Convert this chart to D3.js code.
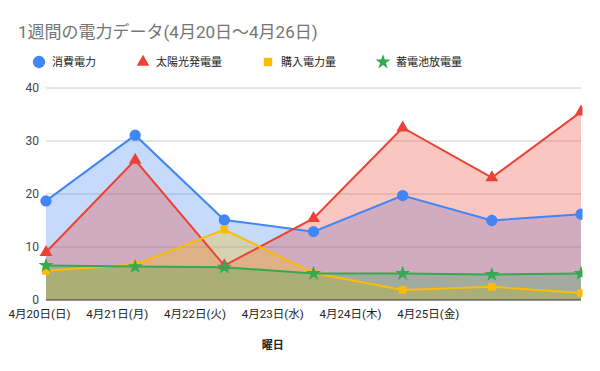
<!DOCTYPE html>
<html>
<head>
<meta charset="utf-8">
<script src="https://cdnjs.cloudflare.com/ajax/libs/d3/7.8.5/d3.min.js"></script>
<style>
    body { margin: 0; background: #fff; }
    svg { display: block; font-family: Roboto, "Noto Sans CJK JP", Arial, sans-serif; }
</style>
</head>
<body>
<svg id="chart" width="600" height="371"></svg>
<script>
    // Data
    const categories = ['4月20日(日)', '4月21日(月)', '4月22日(火)', '4月23日(水)', '4月24日(木)', '4月25日(金)', '4月26日(土)'];
    const seriesNames = ['消費電力', '太陽光発電量', '購入電力量', '蓄電池放電量'];
    const consumption = [18.7, 31.1, 15.1, 12.9, 19.7, 15.0, 16.2];
    const solar = [9.0, 26.4, 6.5, 15.4, 32.5, 23.1, 35.5];
    const purchased = [5.5, 6.7, 13.3, 5.1, 1.9, 2.5, 1.3];
    const battery = [6.5, 6.3, 6.2, 5.0, 5.0, 4.8, 5.0];
    const yTicks = [0, 10, 20, 30, 40];

    const colors = ['#4285f4', '#ea4335', '#fbbc04', '#34a853'];
    const symbols = [d3.symbolCircle, d3.symbolTriangle, d3.symbolSquare, d3.symbolStar];
    const symbolSizes = [100, 70, 60, 70];
    const allSeries = [consumption, solar, purchased, battery];

    const svg = d3.select('#chart');
    const margin = {left: 46, right: 19, top: 88, bottom: 71};
    const width = 600 - margin.left - margin.right;
    const height = 371 - margin.top - margin.bottom;

    const x = d3.scalePoint().domain(categories).range([margin.left, margin.left + width]);
    const y = d3.scaleLinear().domain([0, 40]).range([margin.top + height, margin.top]);
    // tick labels are laid out on their own spacing (as in the original)
    const xLabel = d3.scalePoint().domain(categories).range([39.5, 506]);

    // Title
    svg.append('text')
        .attr('x', 18).attr('y', 38)
        .attr('font-size', 17)
        .attr('fill', '#757575')
        .text('1週間の電力データ(4月20日～4月26日)');

    // Legend
    const legendX = [39, 143, 268, 383];
    seriesNames.forEach((name, i) => {
        svg.append('path')
            .attr('d', d3.symbol(symbols[i], i === 0 ? 120 : 70)())
            .attr('transform', `translate(${legendX[i]},62)`)
            .attr('fill', colors[i]);
        svg.append('text')
            .attr('x', legendX[i] + 13).attr('y', 66)
            .attr('font-size', 11)
            .attr('fill', '#222')
            .text(name);
    });

    // Gridlines + y labels
    svg.append('g').selectAll('line')
        .data(yTicks.filter(d => d > 0))
        .join('line')
        .attr('x1', margin.left).attr('x2', margin.left + width)
        .attr('y1', d => y(d)).attr('y2', d => y(d))
        .attr('stroke', '#cccccc').attr('stroke-width', 1);

    svg.append('g').selectAll('text')
        .data(yTicks)
        .join('text')
        .attr('x', 39).attr('y', d => y(d) + 4)
        .attr('text-anchor', 'end')
        .attr('font-size', 12)
        .attr('fill', '#444')
        .text(d => d);

    svg.append('clipPath').attr('id', 'plotClip')
        .append('rect')
        .attr('x', 0).attr('y', 0)
        .attr('width', margin.left + width + 1.5).attr('height', 371);

    const plot = svg.append('g').attr('clip-path', 'url(#plotClip)');

    const area = d3.area()
        .x((d, i) => x(categories[i]))
        .y0(y(0))
        .y1(d => y(d));
    const line = d3.line()
        .x((d, i) => x(categories[i]))
        .y(d => y(d));

    allSeries.forEach((values, i) => {
        plot.append('path')
            .attr('d', area(values))
            .attr('fill', colors[i])
            .attr('fill-opacity', 0.3);
    });

    allSeries.forEach((values, i) => {
        plot.append('path')
            .attr('d', line(values))
            .attr('fill', 'none')
            .attr('stroke', colors[i])
            .attr('stroke-width', 2);
        plot.append('g').selectAll('path')
            .data(values)
            .join('path')
            .attr('d', d3.symbol(symbols[i], symbolSizes[i])())
            .attr('transform', (d, j) => `translate(${x(categories[j])},${y(d)})`)
            .attr('fill', colors[i]);
    });

    // Baseline
    svg.append('line')
        .attr('x1', margin.left).attr('x2', margin.left + width)
        .attr('y1', y(0)).attr('y2', y(0))
        .attr('stroke', '#333').attr('stroke-width', 1);

    // X labels (last one not shown in the original)
    svg.append('g').selectAll('text')
        .data(categories.slice(0, 6))
        .join('text')
        .attr('x', d => xLabel(d)).attr('y', 318)
        .attr('text-anchor', 'middle')
        .attr('font-size', 11.5)
        .attr('fill', '#222')
        .text(d => d);

    svg.append('text')
        .attr('x', (xLabel.range()[0] + xLabel.range()[1]) / 2).attr('y', 349)
        .attr('text-anchor', 'middle')
        .attr('font-size', 11)
        .attr('font-weight', 'bold')
        .attr('fill', '#222')
        .text('曜日');
</script>
</body>
</html>
